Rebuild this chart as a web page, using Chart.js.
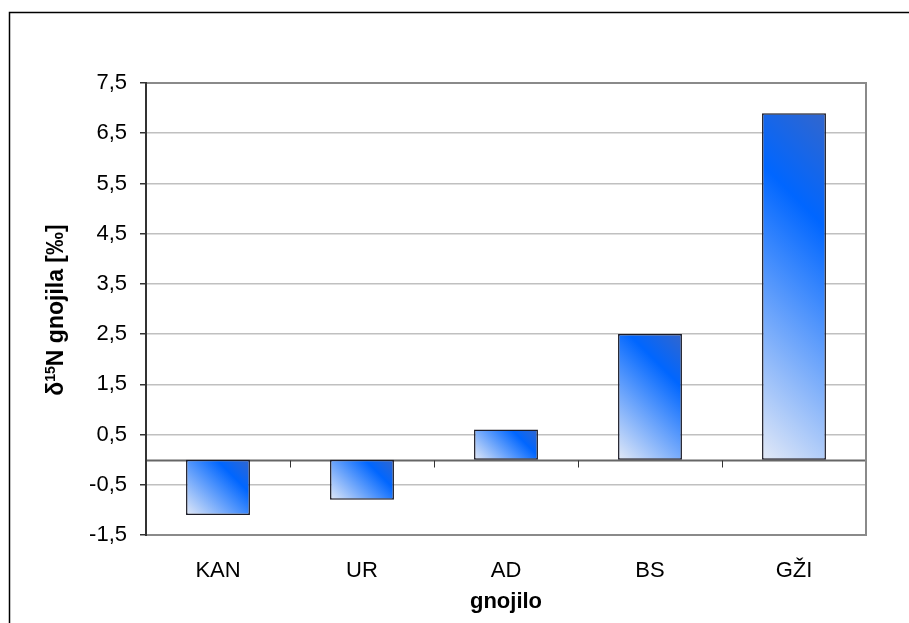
<!DOCTYPE html>
<html>
<head>
<meta charset="utf-8">
<script src="https://cdn.jsdelivr.net/npm/chart.js@4/dist/chart.umd.min.js"></script>
<style>
  html, body { margin: 0; padding: 0; background: #fff; }
  #wrap { width: 909px; height: 623px; position: relative; }
</style>
</head>
<body>
<div id="wrap"><canvas id="c" width="909" height="623"></canvas></div>
<script>
// Fertiliser types and their nitrogen isotope signature (δ15N, ‰)
const categories = ['KAN', 'UR', 'AD', 'BS', 'GŽI'];
const values = [-1.1, -0.8, 0.6, 2.5, 6.9];
const yTicks = [-1.5, -0.5, 0.5, 1.5, 2.5, 3.5, 4.5, 5.5, 6.5, 7.5];
const xTitle = 'gnojilo';

const FONT = '"Liberation Sans", Arial, sans-serif';
const BAR_PCT = 0.444;

// Diagonal light-to-blue fill for each bar
function barFill(ctx) {
  const chart = ctx.chart;
  const area = chart.chartArea;
  if (!area || ctx.type !== 'data') return '#0066ff';
  const xs = chart.scales.x, ys = chart.scales.y;
  const cx = xs.getPixelForValue(ctx.dataIndex);
  const w = (xs.width / categories.length) * BAR_PCT;
  const y0 = ys.getPixelForValue(0), y1 = ys.getPixelForValue(values[ctx.dataIndex]);
  const top = Math.min(y0, y1), bot = Math.max(y0, y1), h = bot - top;
  const L = cx - w / 2;
  const d = (w + h) / 2;
  const g = chart.ctx.createLinearGradient(L, bot, L + d, bot - d);
  g.addColorStop(0, '#e2e9f7');
  g.addColorStop(0.72, '#0066ff');
  g.addColorStop(1, '#3366cc');
  return g;
}

// Frame, zero line, category ticks, axis titles
const decor = {
  id: 'decor',
  beforeDatasetsDraw(chart) {
    const { ctx, chartArea: a, scales: { x, y } } = chart;
    ctx.save();
    const yz = Math.round(y.getPixelForValue(0)) + 0.5;
    ctx.strokeStyle = '#666';
    ctx.lineWidth = 2;
    ctx.beginPath();
    ctx.moveTo(a.left, yz); ctx.lineTo(a.right, yz);
    ctx.stroke();
    // tick marks between categories on the zero line
    ctx.lineWidth = 1;
    ctx.strokeStyle = '#333';
    const step = (a.right - a.left) / categories.length;
    for (let i = 0; i <= categories.length; i++) {
      const px = Math.round(a.left + i * step) + 0.5;
      ctx.beginPath();
      ctx.moveTo(px, yz); ctx.lineTo(px, yz + 7);
      ctx.stroke();
    }
    ctx.restore();
  },
  afterDraw(chart) {
    const { ctx, chartArea: a } = chart;
    ctx.save();
    // plot frame: grey top/right/bottom, dark left axis
    ctx.strokeStyle = '#8a8a8a';
    ctx.lineWidth = 2;
    ctx.beginPath();
    ctx.moveTo(a.left, a.top); ctx.lineTo(a.right, a.top);
    ctx.lineTo(a.right, a.bottom); ctx.lineTo(a.left, a.bottom);
    ctx.stroke();
    ctx.strokeStyle = '#333';
    ctx.lineWidth = 2;
    ctx.beginPath();
    ctx.moveTo(a.left, a.top - 1); ctx.lineTo(a.left, a.bottom + 1);
    ctx.stroke();
    // outer border
    ctx.strokeStyle = '#000';
    ctx.lineWidth = 1.5;
    ctx.strokeRect(9.5, 12.5, 1000, 1000);
    // x axis title
    ctx.fillStyle = '#000';
    ctx.font = 'bold 22px ' + FONT;
    ctx.textAlign = 'center';
    ctx.textBaseline = 'middle';
    ctx.fillText(xTitle, (a.left + a.right) / 2, 602);
    // y axis title with superscript
    ctx.translate(57, 310);
    ctx.rotate(-Math.PI / 2);
    const parts = [['δ', 23, 0], ['15', 14, -8], ['N gnojila [‰]', 23, 0]];
    let total = 0;
    for (const [t, s] of parts) { ctx.font = 'bold ' + s + 'px ' + FONT; total += ctx.measureText(t).width; }
    let px = -total / 2;
    ctx.textAlign = 'left';
    ctx.textBaseline = 'alphabetic';
    for (const [t, s, dy] of parts) {
      ctx.font = 'bold ' + s + 'px ' + FONT;
      ctx.fillText(t, px, 6 + dy);
      px += ctx.measureText(t).width;
    }
    ctx.restore();
  }
};

new Chart(document.getElementById('c'), {
  type: 'bar',
  data: {
    labels: categories,
    datasets: [{
      data: values,
      backgroundColor: barFill,
      borderColor: '#1c1c28',
      borderWidth: 1.5,
      borderSkipped: false,
      barPercentage: BAR_PCT,
      categoryPercentage: 1
    }]
  },
  options: {
    responsive: false,
    animation: false,
    devicePixelRatio: 1,
    layout: { padding: { left: 0, top: 83, right: 43, bottom: 0 } },
    plugins: { legend: { display: false }, tooltip: { enabled: false } },
    scales: {
      x: {
        grid: { display: false },
        border: { display: false },
        ticks: { color: '#000', font: { family: FONT, size: 22 }, padding: 15 },
        afterFit(s) { s.height = 623 - 535; }
      },
      y: {
        min: -1.5,
        max: 7.5,
        afterBuildTicks(s) { s.ticks = yTicks.map(v => ({ value: v })); },
        grid: { color: '#c0c0c0', lineWidth: 1.5, tickColor: '#333', tickLength: 6 },
        border: { display: false },
        ticks: {
          color: '#000',
          font: { family: FONT, size: 22 },
          padding: 13,
          callback: v => v.toFixed(1).replace('.', ',')
        },
        afterFit(s) { s.width = 146; }
      }
    }
  },
  plugins: [decor]
});
</script>
</body>
</html>
